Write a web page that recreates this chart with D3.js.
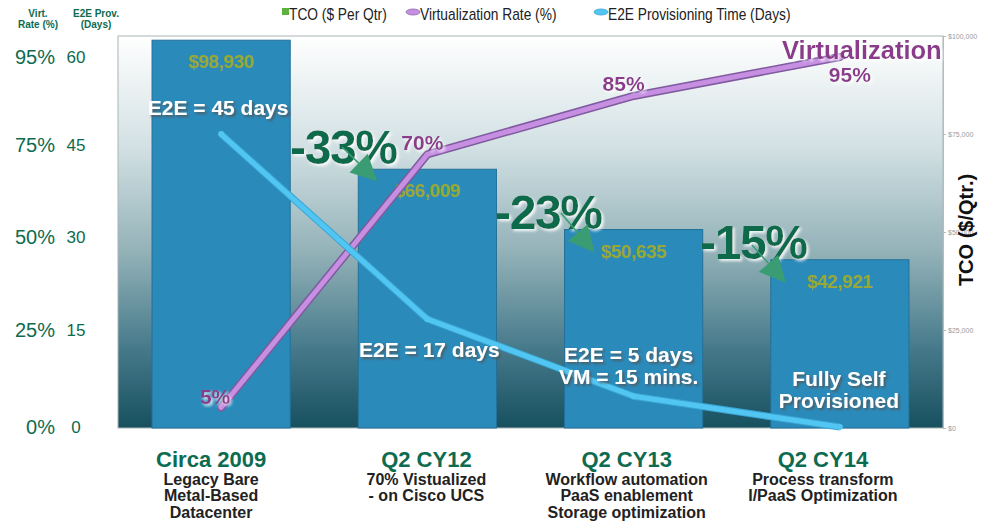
<!DOCTYPE html>
<html>
<head>
<meta charset="utf-8">
<script src="https://cdn.jsdelivr.net/npm/d3@7"></script>
<style>
  body { margin: 0; background: #fff; }
  svg { display: block; font-family: "Liberation Sans", Arial, sans-serif; }
</style>
</head>
<body>
<div id="chart"></div>
<script>
;(function () {
  // DATA
  const categories = ["Circa 2009", "Q2 CY12", "Q2 CY13", "Q2 CY14"]
  const subLabels = [
    ["Legacy Bare", "Metal-Based", "Datacenter"],
    ["70% Vistualized", "- on Cisco UCS"],
    ["Workflow automation", "PaaS enablement", "Storage optimization"],
    ["Process transform", "I/PaaS Optimization"]
  ]
  const tcoValues = [98930, 66009, 50635, 42921]
  const virtRates = [5, 70, 85, 95]
  const e2eDays = [47.5, 17.5, 5, 0]
  const changeLabels = ["-33%", "-23%", "-15%"]
  const dayTicks = [0, 15, 30, 45, 60]
  const pctTickLabels = ["0%", "25%", "50%", "75%", "95%"]
  const tcoTicks = [0, 25000, 50000, 75000, 100000]

  const width = 986
  const height = 521
  const plot = { left: 118, right: 943, top: 36, bottom: 428 }

  const svg = d3.select("#chart").append("svg")
    .attr("width", width)
    .attr("height", height)

  const defs = svg.append("defs")
  const bg = defs.append("linearGradient").attr("id", "bg")
    .attr("x1", 0).attr("y1", 0).attr("x2", 0).attr("y2", 1)
  bg.selectAll("stop")
    .data([[0, "#ffffff"], [0.28, "#d3e1e4"], [0.55, "#93b2b8"], [0.8, "#45798a"], [1, "#17505f"]])
    .join("stop")
    .attr("offset", d => d[0])
    .attr("stop-color", d => d[1])

  const shadow = defs.append("filter").attr("id", "shadow")
    .attr("x", "-10%").attr("y", "-20%").attr("width", "130%").attr("height", "150%")
  shadow.append("feDropShadow").attr("dx", 2).attr("dy", 2).attr("stdDeviation", 0.8)
    .attr("flood-color", "#555").attr("flood-opacity", 0.8)

  const glow = defs.append("filter").attr("id", "glow")
    .attr("x", "-10%").attr("y", "-20%").attr("width", "130%").attr("height", "150%")
  glow.append("feDropShadow").attr("dx", 2).attr("dy", 2).attr("stdDeviation", 1.5)
    .attr("flood-color", "#ffffff").attr("flood-opacity", 0.9)

  // Scales
  const x = d3.scaleBand()
    .domain(categories)
    .range([plot.left, plot.right])
    .paddingInner(0.33)
    .paddingOuter(0.165)
  const cx = d => x(d) + x.bandwidth() / 2

  const yTco = d3.scaleLinear().domain([0, 100000]).range([plot.bottom, plot.top])
  const yDays = d3.scaleLinear().domain([0, 60]).range([427, 57])
  const yVirt = d3.scaleLinear().domain([0, 95]).range([427, 57])

  // Plot background
  svg.append("rect")
    .attr("x", plot.left)
    .attr("y", plot.top)
    .attr("width", plot.right - plot.left)
    .attr("height", plot.bottom - plot.top)
    .attr("fill", "url(#bg)")
    .attr("stroke", "#a9b3b6")
    .attr("stroke-width", 1)

  // Bars
  svg.selectAll(".bar")
    .data(categories)
    .join("rect")
    .attr("class", "bar")
    .attr("x", d => x(d))
    .attr("width", x.bandwidth())
    .attr("y", (d, i) => yTco(tcoValues[i]))
    .attr("height", (d, i) => yTco(0) - yTco(tcoValues[i]))
    .attr("fill", "#2a8aba")
    .attr("stroke", "#237199")
    .attr("stroke-width", 1)

  // Bar value labels
  svg.selectAll(".val")
    .data(categories)
    .join("text")
    .attr("class", "val")
    .attr("x", d => cx(d))
    .attr("y", (d, i) => yTco(tcoValues[i]) + 28)
    .attr("text-anchor", "middle")
    .attr("fill", "#97a836")
    .style("font-size", "19px")
    .style("font-weight", "bold")
    .attr("textLength", 66)
    .text((d, i) => "$" + d3.format(",")(tcoValues[i]))

  // Right axis (TCO)
  const rAxis = svg.append("g")
    .attr("transform", `translate(${plot.right},0)`)
    .call(d3.axisRight(yTco).tickValues(tcoTicks).tickSize(3).tickFormat(d3.format("$,")))
  rAxis.select(".domain").attr("stroke", "#b5bcbe")
  rAxis.selectAll(".tick line").attr("stroke", "#b5bcbe")
  rAxis.selectAll("text")
    .attr("fill", "#9a9a9a")
    .style("font-size", "7px")
    .attr("x", 5)

  svg.append("text")
    .attr("transform", `translate(973,230) rotate(-90)`)
    .attr("text-anchor", "middle")
    .attr("fill", "#111")
    .style("font-size", "20px")
    .style("font-weight", "bold")
    .text("TCO ($/Qtr.)")

  // Left axes (labels only)
  const leftTitles = [
    { x: 38, lines: ["Virt.", "Rate (%)"] },
    { x: 96, lines: ["E2E Prov.", "(Days)"] }
  ]
  leftTitles.forEach(t => {
    svg.append("text")
      .attr("x", t.x)
      .attr("y", 17)
      .attr("text-anchor", "middle")
      .attr("fill", "#0d6b4f")
      .style("font-size", "10px")
      .style("font-weight", "bold")
      .selectAll("tspan")
      .data(t.lines)
      .join("tspan")
      .attr("x", t.x)
      .attr("dy", (d, i) => i ? 11 : 0)
      .text(d => d)
  })

  svg.selectAll(".pct")
    .data(dayTicks)
    .join("text")
    .attr("class", "pct")
    .attr("x", 55)
    .attr("y", d => yDays(d) + 7 - (d > 0 && d < 60 ? 5 : 0))
    .attr("text-anchor", "end")
    .attr("fill", "#0d6b4f")
    .style("font-size", "20px")
    .text((d, i) => pctTickLabels[i])

  svg.selectAll(".day")
    .data(dayTicks)
    .join("text")
    .attr("class", "day")
    .attr("x", 76)
    .attr("y", d => yDays(d) + 6 - (d > 0 && d < 60 ? 5 : 0))
    .attr("text-anchor", "middle")
    .attr("fill", "#0d6b4f")
    .style("font-size", "17px")
    .text(d => d)

  // Virtualization line
  const virtLine = d3.line()
    .x((d, i) => cx(categories[i]))
    .y(d => yVirt(d))
  svg.append("path")
    .datum(virtRates)
    .attr("d", virtLine)
    .attr("fill", "none")
    .attr("stroke", "#7f5a9e")
    .attr("stroke-width", 8)
    .attr("stroke-linejoin", "round")
    .attr("stroke-linecap", "round")
  svg.append("path")
    .datum(virtRates)
    .attr("d", virtLine)
    .attr("fill", "none")
    .attr("stroke", "#c68fe2")
    .attr("stroke-width", 5)
    .attr("stroke-linejoin", "round")
    .attr("stroke-linecap", "round")

  // E2E line
  const e2eLine = d3.line()
    .x((d, i) => cx(categories[i]))
    .y(d => yDays(d))
  svg.append("path")
    .datum(e2eDays)
    .attr("d", e2eLine)
    .attr("fill", "none")
    .attr("stroke", "#3aa6d4")
    .attr("stroke-width", 7)
    .attr("stroke-linejoin", "round")
  svg.append("path")
    .datum(e2eDays)
    .attr("d", e2eLine)
    .attr("fill", "none")
    .attr("stroke", "#52c6f2")
    .attr("stroke-width", 5)
    .attr("stroke-linejoin", "round")
  svg.selectAll(".e2e-pt")
    .data(e2eDays)
    .join("circle")
    .attr("class", "e2e-pt")
    .attr("cx", (d, i) => cx(categories[i]))
    .attr("cy", d => yDays(d))
    .attr("r", 3)
    .attr("fill", "#52c6f2")

  // Virtualization labels
  const virtLabelPos = [[-6, -4], [-5, -4], [-10, -5], [10, 25]]
  svg.selectAll(".vlab")
    .data(virtRates)
    .join("text")
    .attr("class", "vlab")
    .attr("x", (d, i) => cx(categories[i]) + virtLabelPos[i][0])
    .attr("y", (d, i) => yVirt(d) + virtLabelPos[i][1])
    .attr("text-anchor", "middle")
    .attr("fill", "#8c3b8c")
    .attr("filter", "url(#glow)")
    .style("font-size", "21px")
    .style("font-weight", "bold")
    .text(d => d + "%")
  svg.append("text")
    .attr("x", cx(categories[3]) + 22)
    .attr("y", yVirt(95) + 2)
    .attr("text-anchor", "middle")
    .attr("fill", "#8c3b8c")
    .attr("filter", "url(#glow)")
    .style("font-size", "25.5px")
    .style("font-weight", "bold")
    .text("Virtualization")

  // E2E annotations
  const e2eNotes = [
    { lines: ["E2E = 45 days"], x: cx(categories[0]) - 3, y: 115 },
    { lines: ["E2E = 17 days"], x: cx(categories[1]) + 2, y: 357 },
    { lines: ["E2E = 5 days", "VM = 15 mins."], x: cx(categories[2]) - 5, y: 362 },
    { lines: ["Fully Self", "Provisioned"], x: cx(categories[3]) - 1, y: 386 }
  ]
  e2eNotes.forEach(n => {
    svg.append("text")
      .attr("x", n.x)
      .attr("y", n.y)
      .attr("text-anchor", "middle")
      .attr("fill", "#ffffff")
      .attr("filter", "url(#shadow)")
      .style("font-size", "21px")
      .style("font-weight", "bold")
      .selectAll("tspan")
      .data(n.lines)
      .join("tspan")
      .attr("x", n.x)
      .attr("dy", (d, i) => i ? 22 : 0)
      .text(d => d)
  })

  // Change annotations with arrows
  const arrowPos = [
    { tx: 290, ty: 164, from: [342, 147], tip: [19, 12] },
    { tx: 495, ty: 229, from: [561, 213], tip: [30, 23] },
    { tx: 700, ty: 259, from: [752, 245], tip: [15, 23] }
  ]
  changeLabels.forEach((lab, i) => {
    const a = arrowPos[i]
    const cat = categories[i + 1]
    const tipX = x(cat) + a.tip[0]
    const tipY = yTco(tcoValues[i + 1]) + a.tip[1]
    svg.append("text")
      .attr("x", a.tx)
      .attr("y", a.ty)
      .attr("fill", "#0b6b4c")
      .attr("filter", "url(#glow)")
      .style("font-size", "48px")
      .style("font-weight", "bold")
      .attr("textLength", 108)
      .text(lab)
    const dx = tipX - a.from[0], dy = tipY - a.from[1]
    const len = Math.sqrt(dx * dx + dy * dy)
    const ux = dx / len, uy = dy / len
    const hl = 26, hw = 13
    const bx = tipX - ux * hl, by = tipY - uy * hl
    svg.append("line")
      .attr("x1", a.from[0]).attr("y1", a.from[1])
      .attr("x2", bx).attr("y2", by)
      .attr("stroke", "#3a9c72")
      .attr("stroke-width", 1.5)
    svg.append("path")
      .attr("d", `M${tipX},${tipY}L${bx - uy * hw},${by + ux * hw}L${bx + uy * hw},${by - ux * hw}Z`)
      .attr("fill", "#3a9c72")
  })

  // Category labels (centred a little left of each bar, as in the slide)
  const catShift = [-10, -1, -7, -17]
  const catG = svg.selectAll(".cat")
    .data(categories)
    .join("g")
    .attr("class", "cat")
    .attr("transform", (d, i) => `translate(${cx(d) + catShift[i]},0)`)
  catG.append("text")
    .attr("y", 467)
    .attr("text-anchor", "middle")
    .attr("fill", "#0d6b4f")
    .style("font-size", "22px")
    .style("font-weight", "bold")
    .text(d => d)
  catG.each(function (d, i) {
    d3.select(this).selectAll(".sub")
      .data(subLabels[i])
      .join("text")
      .attr("class", "sub")
      .attr("y", (s, j) => 485 + j * 15.5 + (j === 2 ? 1.5 : 0))
      .attr("text-anchor", "middle")
      .attr("fill", "#222")
      .style("font-size", "16px")
      .style("font-weight", "bold")
      .text(s => s)
  })

  // Legend
  const legend = svg.append("g").style("font-size", "16px")
  const legendItems = [
    { label: "TCO ($ Per Qtr)", x: 282, type: "square", color: "#5cb13f" },
    { label: "Virtualization Rate (%)", x: 406, type: "blob", color: "#c68fe2", edge: "#8c6aa8" },
    { label: "E2E Provisioning Time (Days)", x: 594, type: "blob", color: "#52c6f2", edge: "#3aa6d4" }
  ]
  legendItems.forEach(it => {
    const tx = it.type === "square" ? it.x + 7 : it.x + 14
    if (it.type === "square") {
      legend.append("rect")
        .attr("x", it.x).attr("y", 8).attr("width", 7).attr("height", 7)
        .attr("fill", it.color)
    } else {
      legend.append("ellipse")
        .attr("cx", it.x + 7).attr("cy", 12).attr("rx", 7).attr("ry", 3)
        .attr("fill", it.color).attr("stroke", it.edge).attr("stroke-width", 0.8)
    }
    legend.append("text")
      .attr("x", tx)
      .attr("y", 20)
      .attr("fill", "#222")
      .attr("transform", `translate(${tx},0) scale(0.86,1) translate(${-tx},0)`)
      .text(it.label)
  })
})()
</script>
</body>
</html>
